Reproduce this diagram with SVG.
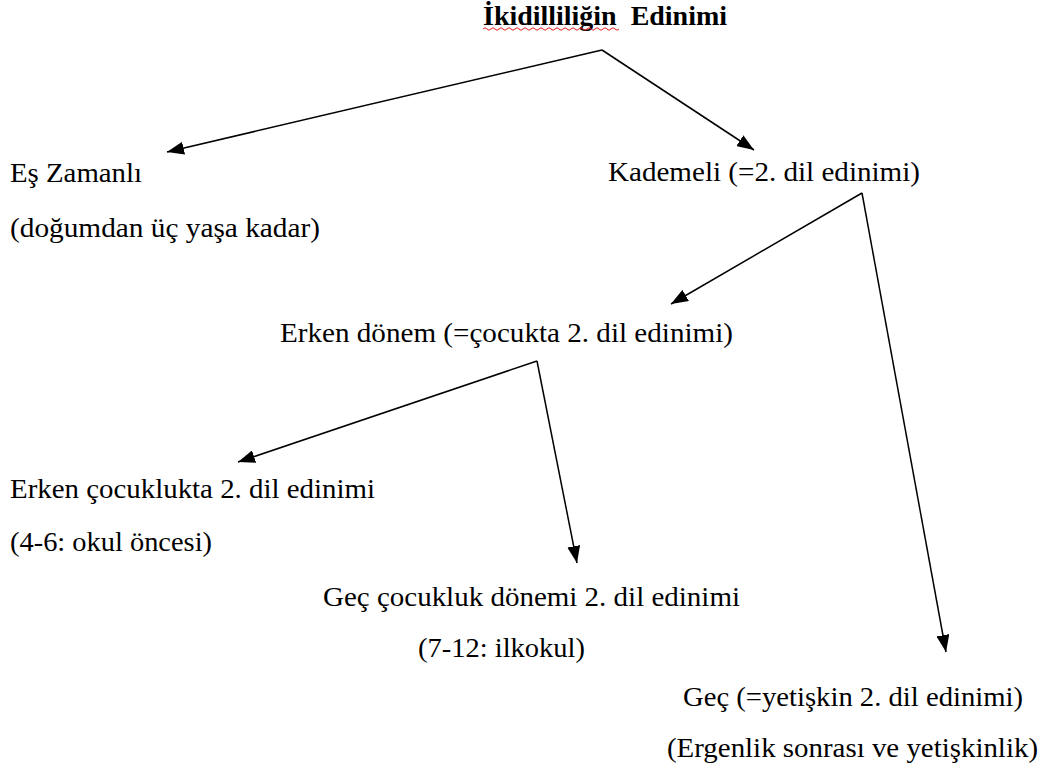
<svg xmlns="http://www.w3.org/2000/svg" width="1044" height="767" viewBox="0 0 1044 767" font-family="Liberation Serif, Times New Roman, DejaVu Serif, serif">
<style>
text{font-size:28px;fill:#000}
.title{font-weight:bold}
.conn line{stroke:#000;stroke-width:1.5;fill:none}
</style>
<defs>
<marker id="ah" viewBox="0 0 17 13" refX="17" refY="6.5" markerWidth="17" markerHeight="13" markerUnits="userSpaceOnUse" orient="auto">
<path d="M0,0 L17,6.5 L0,13 Z" fill="#000"/>
</marker>
</defs>
<rect width="1044" height="767" fill="#fff"/>
<g id="root">
<text class="title" x="483" y="25" textLength="244" lengthAdjust="spacingAndGlyphs" xml:space="preserve">İkidilliliğin  Edinimi</text>
<path d="M483,29 q2,-2.5 4,0 t4,0 t4,0 t4,0 t4,0 t4,0 t4,0 t4,0 t4,0 t4,0 t4,0 t4,0 t4,0 t4,0 t4,0 t4,0 t4,0 t4,0 t4,0 t4,0 t4,0 t4,0 t4,0 t4,0 t4,0 t4,0 t4,0 t4,0 t4,0 t4,0 t4,0 t4,0 t4,0 t4,0" fill="none" stroke="#e02020" stroke-width="1"/>
</g>
<g id="es-zamanli">
<text x="10" y="182" textLength="132" lengthAdjust="spacingAndGlyphs">Eş Zamanlı</text>
<text x="10" y="237" textLength="310" lengthAdjust="spacingAndGlyphs">(doğumdan üç yaşa kadar)</text>
</g>
<g id="kademeli">
<text x="608" y="181" textLength="312" lengthAdjust="spacingAndGlyphs">Kademeli (=2. dil edinimi)</text>
</g>
<g id="erken-donem">
<text x="280" y="342" textLength="453" lengthAdjust="spacingAndGlyphs">Erken dönem (=çocukta 2. dil edinimi)</text>
</g>
<g id="erken-cocukluk">
<text x="10" y="498" textLength="365" lengthAdjust="spacingAndGlyphs">Erken çocuklukta 2. dil edinimi</text>
<text x="10" y="551" textLength="202" lengthAdjust="spacingAndGlyphs">(4-6: okul öncesi)</text>
</g>
<g id="gec-cocukluk">
<text x="323" y="606" textLength="417" lengthAdjust="spacingAndGlyphs">Geç çocukluk dönemi 2. dil edinimi</text>
<text x="418" y="657" textLength="167" lengthAdjust="spacingAndGlyphs">(7-12: ilkokul)</text>
</g>
<g id="gec">
<text x="683" y="706" textLength="340" lengthAdjust="spacingAndGlyphs">Geç (=yetişkin 2. dil edinimi)</text>
<text x="667" y="757" textLength="371" lengthAdjust="spacingAndGlyphs">(Ergenlik sonrası ve yetişkinlik)</text>
</g>
<g id="connectors" class="conn">
<line x1="602" y1="50" x2="167" y2="152" marker-end="url(#ah)"/>
<line x1="602" y1="50" x2="754" y2="150" marker-end="url(#ah)"/>
<line x1="862" y1="193" x2="671" y2="304" marker-end="url(#ah)"/>
<line x1="862" y1="193" x2="946" y2="652" marker-end="url(#ah)"/>
<line x1="537" y1="361" x2="238" y2="462" marker-end="url(#ah)"/>
<line x1="537" y1="361" x2="577" y2="563" marker-end="url(#ah)"/>
</g>
</svg>
